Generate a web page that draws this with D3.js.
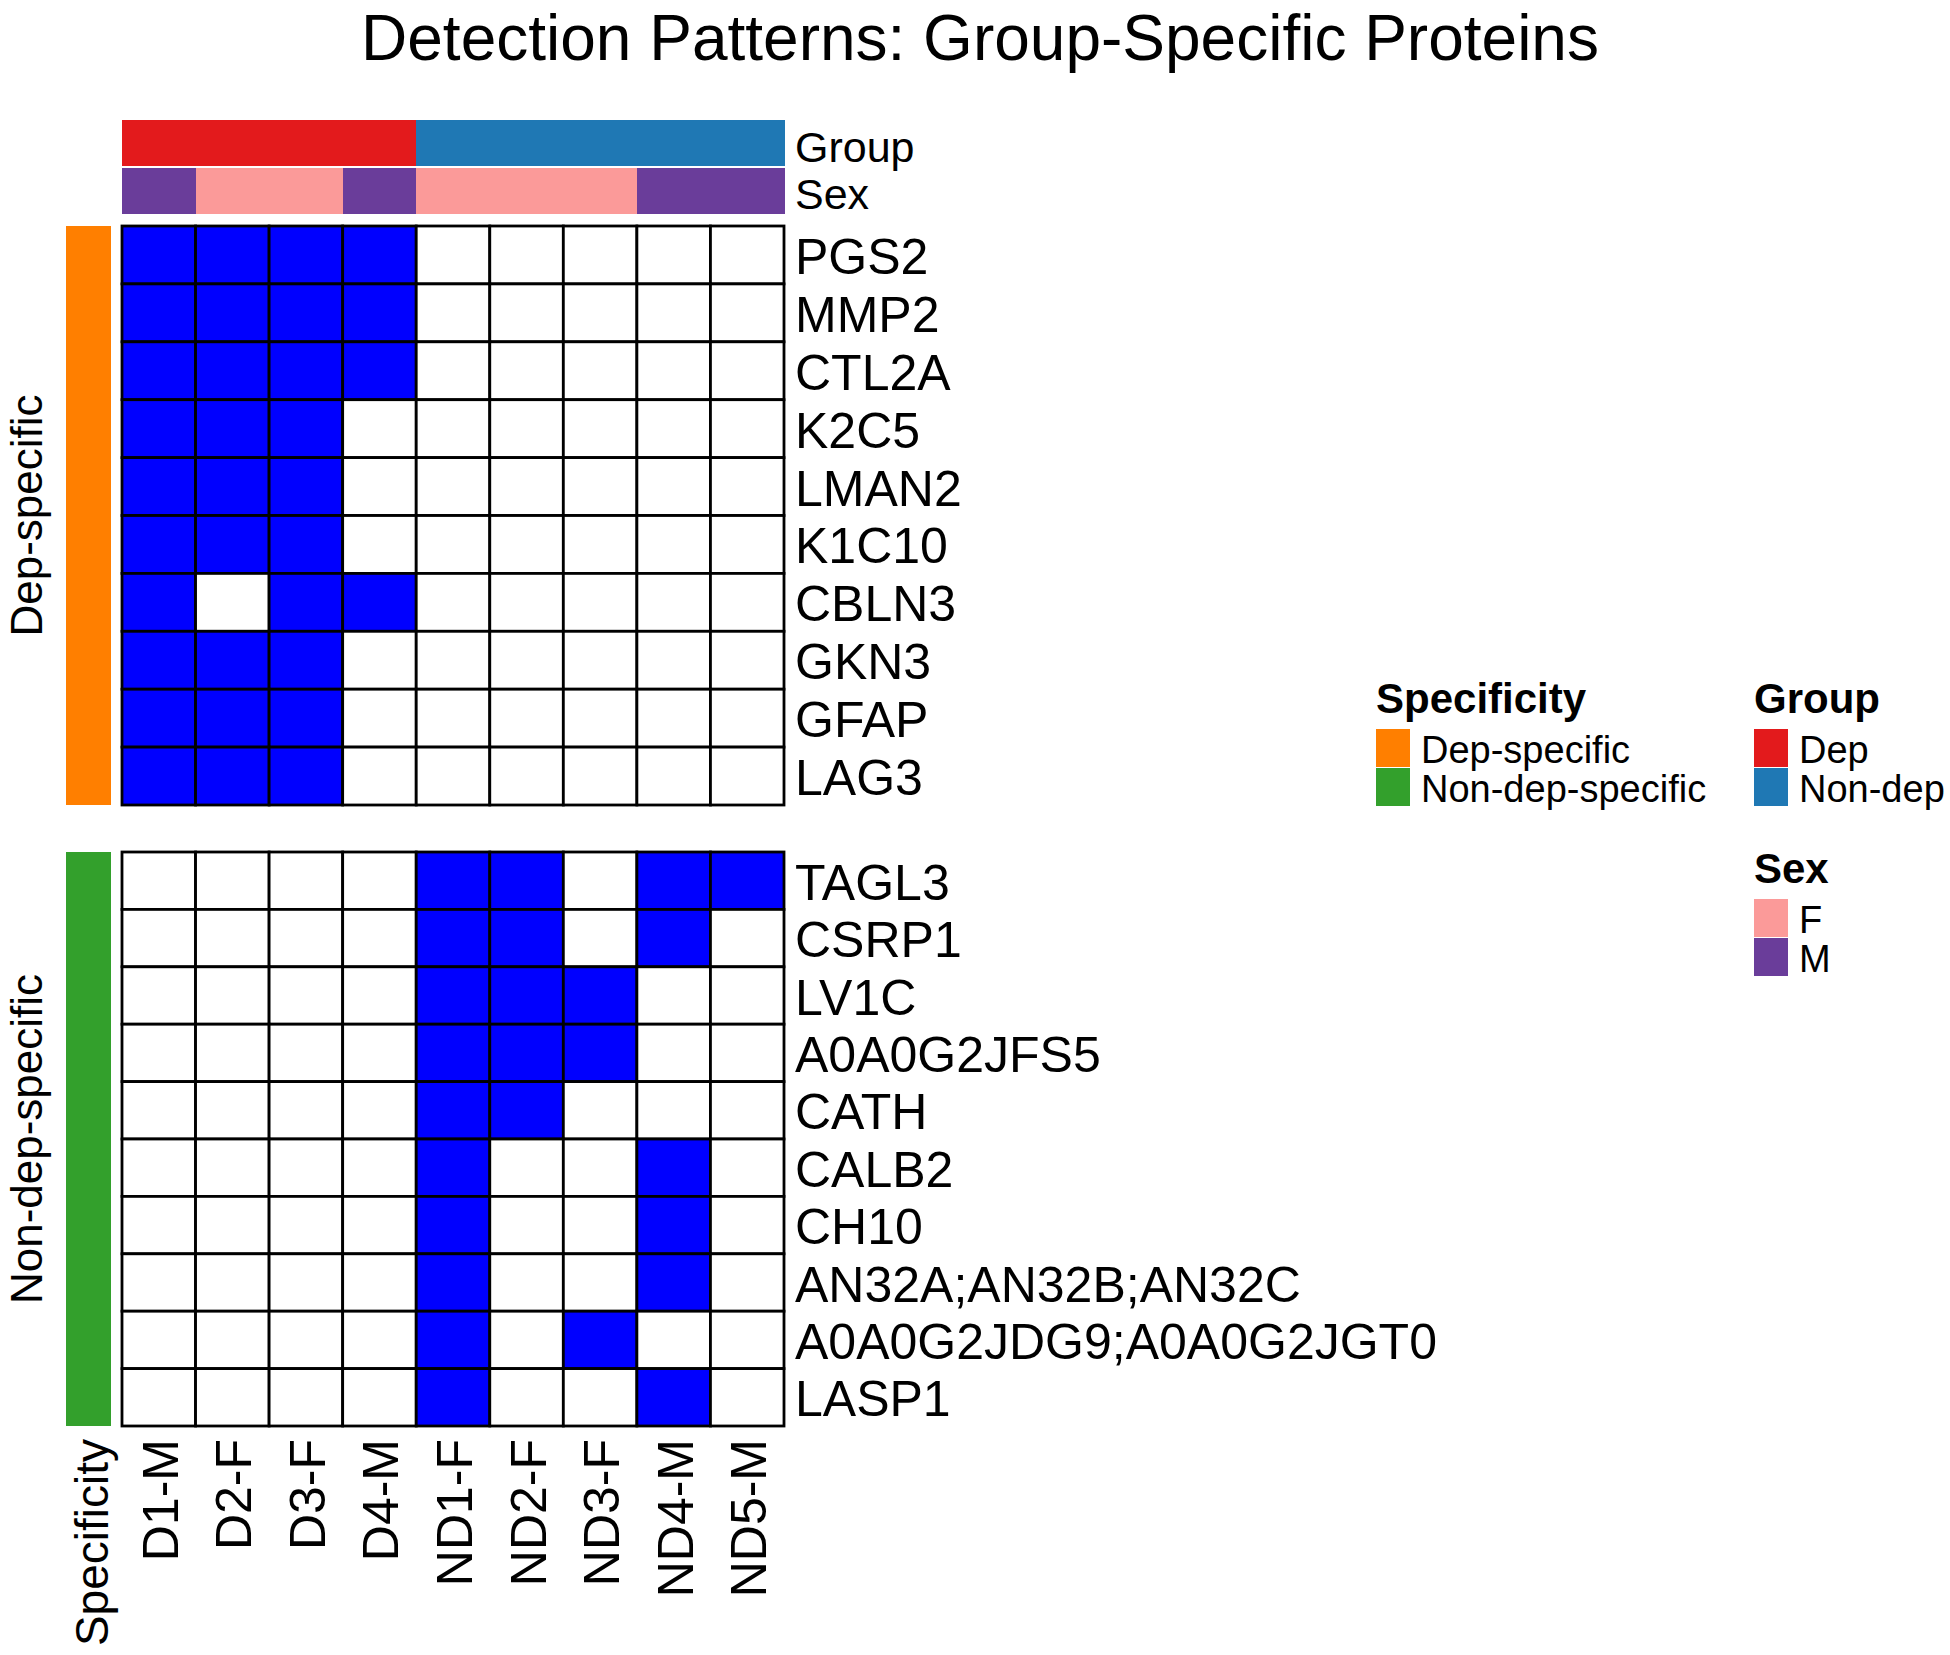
<!DOCTYPE html>
<html>
<head>
<meta charset="utf-8">
<script src="https://cdn.jsdelivr.net/npm/d3@7"></script>
<style>
  html, body { margin: 0; padding: 0; background: #fff; }
  svg { display: block; }
  text { font-family: "Liberation Sans", Arial, sans-serif; fill: #000; }
</style>
</head>
<body>
<script>
// ---------- DATA ----------
const samples = ["D1-M", "D2-F", "D3-F", "D4-M", "ND1-F", "ND2-F", "ND3-F", "ND4-M", "ND5-M"];
const sampleGroup = ["Dep", "Dep", "Dep", "Dep", "Non-dep", "Non-dep", "Non-dep", "Non-dep", "Non-dep"];
const sampleSex = ["M", "F", "F", "M", "F", "F", "F", "M", "M"];

const depRows = ["PGS2", "MMP2", "CTL2A", "K2C5", "LMAN2", "K1C10", "CBLN3", "GKN3", "GFAP", "LAG3"];
const depValues = [
  [1,1,1,1,0,0,0,0,0],
  [1,1,1,1,0,0,0,0,0],
  [1,1,1,1,0,0,0,0,0],
  [1,1,1,0,0,0,0,0,0],
  [1,1,1,0,0,0,0,0,0],
  [1,1,1,0,0,0,0,0,0],
  [1,0,1,1,0,0,0,0,0],
  [1,1,1,0,0,0,0,0,0],
  [1,1,1,0,0,0,0,0,0],
  [1,1,1,0,0,0,0,0,0]
];

const nondepRows = ["TAGL3", "CSRP1", "LV1C", "A0A0G2JFS5", "CATH", "CALB2", "CH10", "AN32A;AN32B;AN32C", "A0A0G2JDG9;A0A0G2JGT0", "LASP1"];
const nondepValues = [
  [0,0,0,0,1,1,0,1,1],
  [0,0,0,0,1,1,0,1,0],
  [0,0,0,0,1,1,1,0,0],
  [0,0,0,0,1,1,1,0,0],
  [0,0,0,0,1,1,0,0,0],
  [0,0,0,0,1,0,0,1,0],
  [0,0,0,0,1,0,0,1,0],
  [0,0,0,0,1,0,0,1,0],
  [0,0,0,0,1,0,1,0,0],
  [0,0,0,0,1,0,0,1,0]
];

const specificityLevels = ["Dep-specific", "Non-dep-specific"];
const groupLevels = ["Dep", "Non-dep"];
const sexLevels = ["F", "M"];

// ---------- COLOURS ----------
const cellColor = d3.scaleOrdinal().domain([0, 1]).range(["#FFFFFF", "#0000FF"]);
const specColor = d3.scaleOrdinal().domain(specificityLevels).range(["#FF7F00", "#33A02C"]);
const groupColor = d3.scaleOrdinal().domain(groupLevels).range(["#E31A1C", "#1F78B4"]);
const sexColor = d3.scaleOrdinal().domain(sexLevels).range(["#FB9A99", "#6A3D9A"]);

// ---------- LAYOUT ----------
const W = 1950, H = 1655;
const svg = d3.select("body").append("svg").attr("width", W).attr("height", H);

const x = d3.scaleBand().domain(samples).range([122, 784]).padding(0);
const blocks = [
  { name: specificityLevels[0], rows: depRows, values: depValues, range: [226, 805] },
  { name: specificityLevels[1], rows: nondepRows, values: nondepValues, range: [852, 1426] }
];

// Title
svg.append("text")
  .attr("x", 980).attr("y", 60)
  .attr("text-anchor", "middle")
  .style("font-size", "64px")
  .text("Detection Patterns: Group-Specific Proteins");

// Column annotations
const annY = { group: [120, 166], sex: [168, 214] };
svg.append("g").attr("shape-rendering", "crispEdges").selectAll("rect")
  .data(samples)
  .join("rect")
  .attr("x", d => x(d))
  .attr("y", annY.group[0])
  .attr("width", x.bandwidth() + 1)
  .attr("height", annY.group[1] - annY.group[0])
  .attr("fill", (d, i) => groupColor(sampleGroup[i]));

svg.append("g").attr("shape-rendering", "crispEdges").selectAll("rect")
  .data(samples)
  .join("rect")
  .attr("x", d => x(d))
  .attr("y", annY.sex[0])
  .attr("width", x.bandwidth() + 1)
  .attr("height", annY.sex[1] - annY.sex[0])
  .attr("fill", (d, i) => sexColor(sampleSex[i]));

svg.append("text").attr("x", 795).attr("y", 162).style("font-size", "43px").text("Group");
svg.append("text").attr("x", 795).attr("y", 209).style("font-size", "43px").text("Sex");

// Heatmap blocks
blocks.forEach(b => {
  const y = d3.scaleBand().domain(b.rows).range(b.range).padding(0);
  const g = svg.append("g");

  // specificity annotation bar
  g.append("rect")
    .attr("x", 66).attr("y", b.range[0])
    .attr("width", 45).attr("height", b.range[1] - b.range[0])
    .attr("fill", specColor(b.name));

  // row-title
  const midY = (b.range[0] + b.range[1]) / 2;
  g.append("text")
    .attr("transform", `translate(42,${midY}) rotate(-90)`)
    .attr("text-anchor", "middle")
    .style("font-size", "44px")
    .text(b.name);

  const cells = [];
  b.values.forEach((row, ri) => row.forEach((v, ci) => cells.push({ r: b.rows[ri], c: samples[ci], v })));

  g.append("g").selectAll("rect")
    .data(cells)
    .join("rect")
    .attr("x", d => x(d.c))
    .attr("y", d => y(d.r))
    .attr("width", x.bandwidth())
    .attr("height", y.bandwidth())
    .attr("fill", d => cellColor(d.v))
    .attr("stroke", "#000")
    .attr("stroke-width", 2.8);

  g.append("g").selectAll("text")
    .data(b.rows)
    .join("text")
    .attr("x", 795)
    .attr("y", d => y(d) + y.bandwidth() / 2 + 19)
    .style("font-size", "50px")
    .text(d => d);
});

// Column labels
svg.append("g").selectAll("text")
  .data(samples)
  .join("text")
  .attr("transform", d => `translate(${x(d) + x.bandwidth() / 2 + 19},1439) rotate(-90)`)
  .attr("text-anchor", "end")
  .style("font-size", "50px")
  .text(d => d);

svg.append("text")
  .attr("transform", "translate(108,1439) rotate(-90)")
  .attr("text-anchor", "end")
  .style("font-size", "46px")
  .text("Specificity");

// Legends
function legend(title, levels, scale, lx, ty) {
  const g = svg.append("g");
  g.append("text").attr("x", lx).attr("y", ty)
    .style("font-size", "42px").style("font-weight", "bold").text(title);
  const sy = d3.scaleBand().domain(levels).range([ty + 16, ty + 16 + levels.length * 39]);
  g.selectAll("rect").data(levels).join("rect")
    .attr("x", lx).attr("y", d => sy(d))
    .attr("width", 34).attr("height", sy.bandwidth() - 1)
    .attr("fill", d => scale(d));
  g.selectAll("text.lab").data(levels).join("text")
    .attr("class", "lab")
    .attr("x", lx + 45)
    .attr("y", d => sy(d) + sy.bandwidth() / 2 + 14)
    .style("font-size", "38px")
    .text(d => d);
}
legend("Specificity", specificityLevels, specColor, 1376, 713);
legend("Group", groupLevels, groupColor, 1754, 713);
legend("Sex", sexLevels, sexColor, 1754, 883);
</script>
</body>
</html>
